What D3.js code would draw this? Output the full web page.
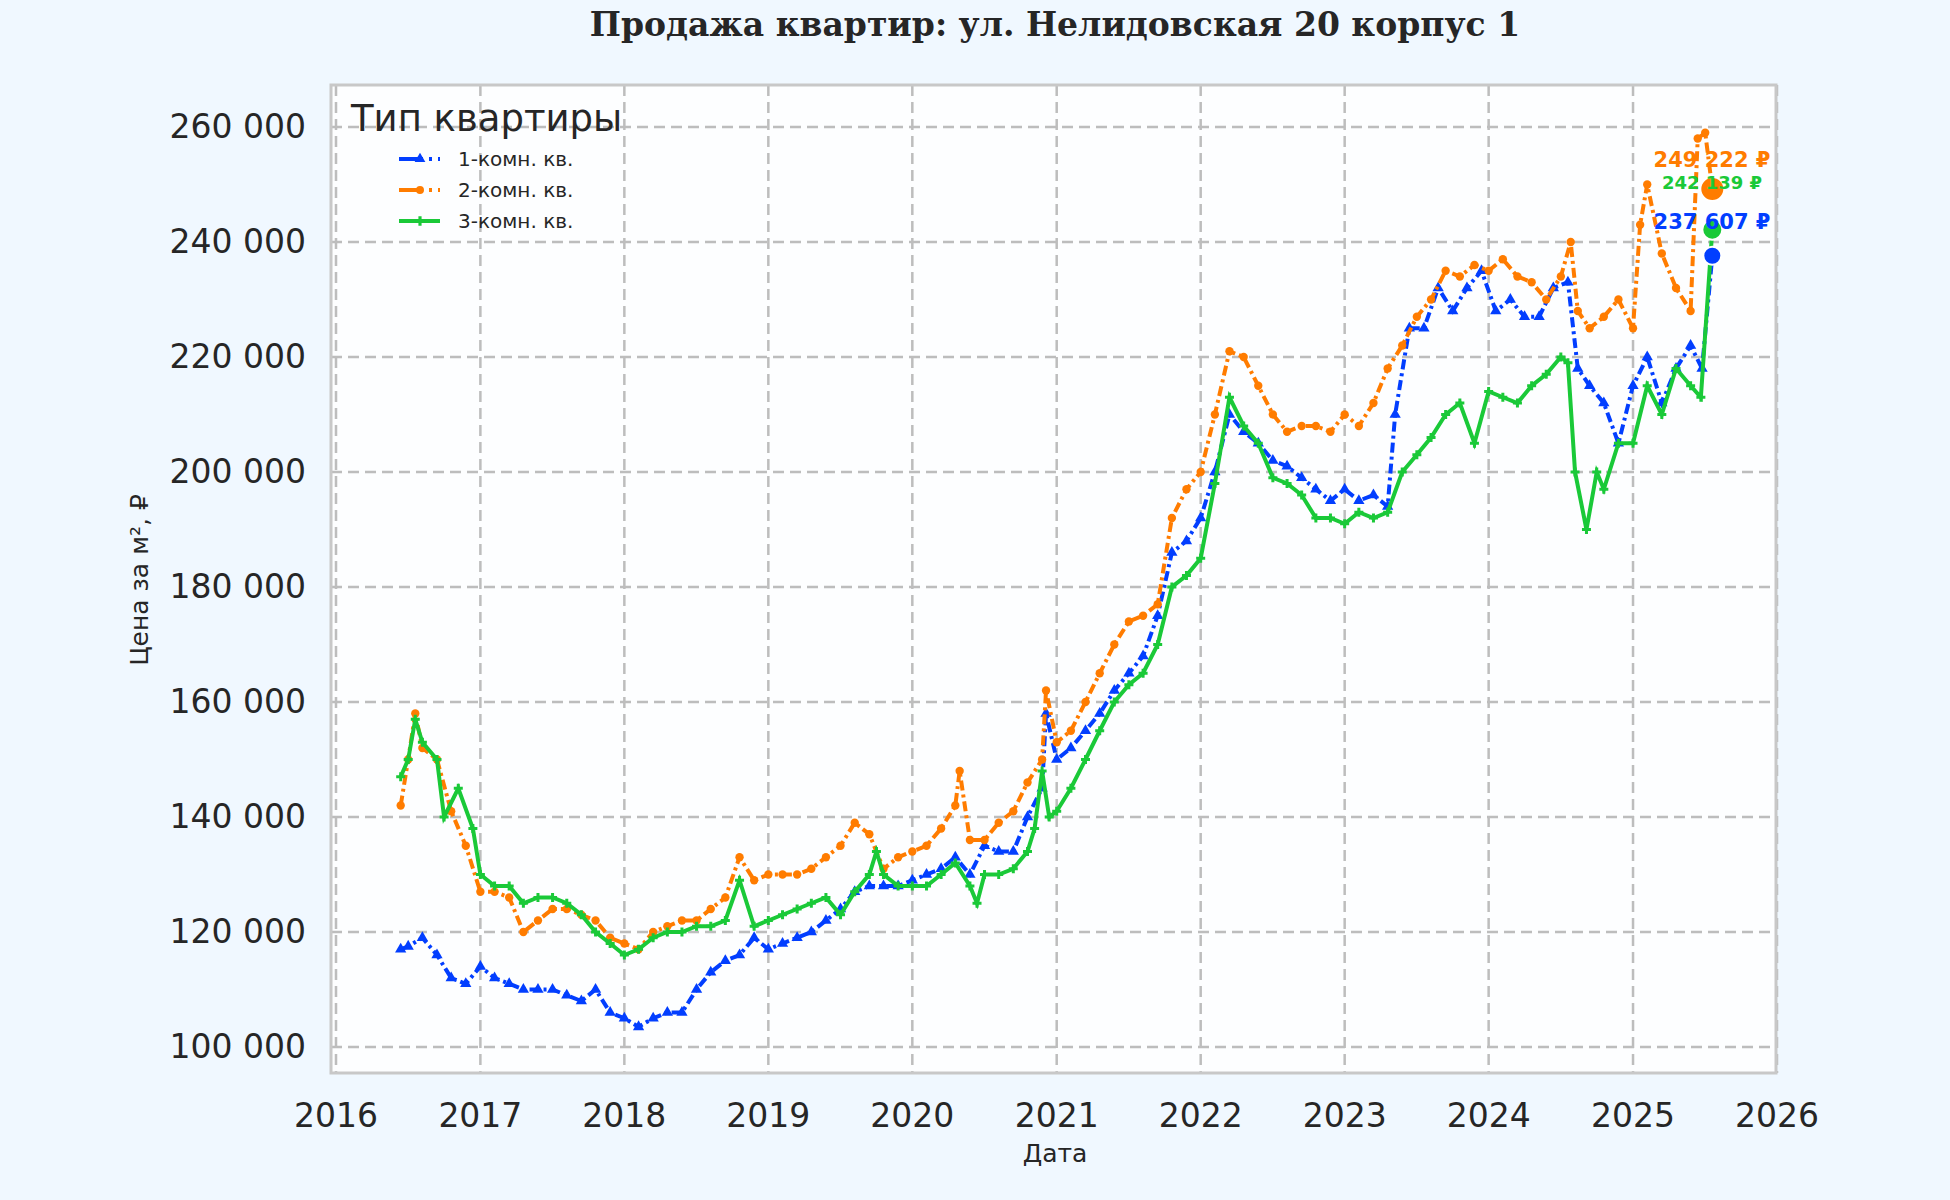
<!DOCTYPE html>
<html><head><meta charset="utf-8">
<script src="https://cdn.jsdelivr.net/npm/d3@7"></script>
<style>body{margin:0;background:#f0f8ff}svg{display:block}</style></head>
<body><svg id="c" width="1950" height="1200"></svg>
<script>
const years1=[2016.45,2016.5,2016.6,2016.7,2016.8,2016.9,2017.0,2017.1,2017.2,2017.3,2017.4,2017.5,2017.6,2017.7,2017.8,2017.9,2018.0,2018.1,2018.2,2018.3,2018.4,2018.5,2018.6,2018.7,2018.8,2018.9,2019.0,2019.1,2019.2,2019.3,2019.4,2019.5,2019.6,2019.7,2019.8,2019.9,2020.0,2020.1,2020.2,2020.3,2020.4,2020.5,2020.6,2020.7,2020.8,2020.9,2020.93,2021.0,2021.1,2021.2,2021.3,2021.4,2021.5,2021.6,2021.7,2021.8,2021.9,2022.0,2022.1,2022.2,2022.3,2022.4,2022.5,2022.6,2022.7,2022.8,2022.9,2023.0,2023.1,2023.2,2023.3,2023.35,2023.45,2023.55,2023.65,2023.75,2023.85,2023.95,2024.05,2024.15,2024.25,2024.35,2024.45,2024.55,2024.62,2024.7,2024.8,2024.9,2025.0,2025.1,2025.2,2025.3,2025.4,2025.48,2025.55];
const values1=[117000,117500,119000,116000,112000,111000,114000,112000,111000,110000,110000,110000,109000,108000,110000,106000,105000,103500,105000,106000,106000,110000,113000,115000,116000,119000,117000,118000,119000,120000,122000,124000,127000,128000,128000,128000,129000,130000,131000,133000,130000,135000,134000,134000,140000,145000,158000,150000,152000,155000,158000,162000,165000,168000,175000,186000,188000,192000,200000,210000,207000,205000,202000,201000,199000,197000,195000,197000,195000,196000,194000,210000,225000,225000,232000,228000,232000,235000,228000,230000,227000,227000,232000,233000,218000,215000,212000,205000,215000,220000,212000,218000,222000,218000,237607];
const years2=[2016.45,2016.5,2016.55,2016.6,2016.7,2016.8,2016.9,2017.0,2017.1,2017.2,2017.3,2017.4,2017.5,2017.6,2017.7,2017.8,2017.9,2018.0,2018.1,2018.2,2018.3,2018.4,2018.5,2018.6,2018.7,2018.8,2018.9,2019.0,2019.1,2019.2,2019.3,2019.4,2019.5,2019.6,2019.7,2019.8,2019.9,2020.0,2020.1,2020.2,2020.3,2020.33,2020.4,2020.5,2020.6,2020.7,2020.8,2020.9,2020.93,2021.0,2021.1,2021.2,2021.3,2021.4,2021.5,2021.6,2021.7,2021.8,2021.9,2022.0,2022.1,2022.2,2022.3,2022.4,2022.5,2022.6,2022.7,2022.8,2022.9,2023.0,2023.1,2023.2,2023.3,2023.4,2023.5,2023.6,2023.7,2023.8,2023.9,2024.0,2024.1,2024.2,2024.3,2024.4,2024.5,2024.57,2024.62,2024.7,2024.8,2024.9,2025.0,2025.05,2025.1,2025.2,2025.3,2025.4,2025.45,2025.5,2025.55];
const values2=[142000,150000,158000,152000,150000,141000,135000,127000,127000,126000,120000,122000,124000,124000,123000,122000,119000,118000,117000,120000,121000,122000,122000,124000,126000,133000,129000,130000,130000,130000,131000,133000,135000,139000,137000,131000,133000,134000,135000,138000,142000,148000,136000,136000,139000,141000,146000,150000,162000,153000,155000,160000,165000,170000,174000,175000,177000,192000,197000,200000,210000,221000,220000,215000,210000,207000,208000,208000,207000,210000,208000,212000,218000,222000,227000,230000,235000,234000,236000,235000,237000,234000,233000,230000,234000,240000,228000,225000,227000,230000,225000,243000,250000,238000,232000,228000,258000,259000,249222];
const years3=[2016.45,2016.5,2016.55,2016.6,2016.7,2016.75,2016.85,2016.95,2017.0,2017.1,2017.2,2017.3,2017.4,2017.5,2017.6,2017.7,2017.8,2017.9,2018.0,2018.1,2018.2,2018.3,2018.4,2018.5,2018.6,2018.7,2018.8,2018.9,2019.0,2019.1,2019.2,2019.3,2019.4,2019.5,2019.6,2019.7,2019.75,2019.8,2019.9,2020.0,2020.1,2020.2,2020.3,2020.4,2020.45,2020.5,2020.6,2020.7,2020.8,2020.85,2020.9,2020.95,2021.0,2021.1,2021.2,2021.3,2021.4,2021.5,2021.6,2021.7,2021.8,2021.9,2022.0,2022.1,2022.2,2022.3,2022.4,2022.5,2022.6,2022.7,2022.8,2022.9,2023.0,2023.1,2023.2,2023.3,2023.4,2023.5,2023.6,2023.7,2023.8,2023.9,2024.0,2024.1,2024.2,2024.3,2024.4,2024.5,2024.55,2024.6,2024.68,2024.75,2024.8,2024.9,2025.0,2025.1,2025.2,2025.3,2025.4,2025.47,2025.55];
const values3=[147000,150000,157000,153000,150000,140000,145000,138000,130000,128000,128000,125000,126000,126000,125000,123000,120000,118000,116000,117000,119000,120000,120000,121000,121000,122000,129000,121000,122000,123000,124000,125000,126000,123000,127000,130000,134000,130000,128000,128000,128000,130000,132000,128000,125000,130000,130000,131000,134000,138000,148000,140000,141000,145000,150000,155000,160000,163000,165000,170000,180000,182000,185000,198000,213000,208000,205000,199000,198000,196000,192000,192000,191000,193000,192000,193000,200000,203000,206000,210000,212000,205000,214000,213000,212000,215000,217000,220000,219000,200000,190000,200000,197000,205000,205000,215000,210000,218000,215000,213000,242139];
const seriesNames=["1-комн. кв.","2-комн. кв.","3-комн. кв."];
const endLabels=["237 607 ₽","249 222 ₽","242 139 ₽"];
const yTicks=[100000,120000,140000,160000,180000,200000,220000,240000,260000];
const xTicks=[2016,2017,2018,2019,2020,2021,2022,2023,2024,2025,2026];

const colors=["#023eff","#ff7c00","#1ac938"];
const dashes=["10,4,3,4","10,4,3,4",null];
const toDate=y=>{const yr=Math.floor(y);return new Date(yr,0,1+Math.round((y-yr)*365));};
const svg=d3.select("#c");
const L=331,R=1776,T=85,B=1073;
const x=d3.scaleTime().domain([toDate(2016),toDate(2026)]).range([336,1777]);
const y=d3.scaleLinear().domain([100000,260000]).range([1047,127]);
const fmt=v=>d3.format(",")(v).replace(/,/g," ");

svg.append("rect").attr("x",L).attr("y",T).attr("width",R-L).attr("height",B-T).attr("fill","#fdfeff");
const g=svg.append("g");
g.selectAll(".gy").data(yTicks).join("line").attr("x1",L).attr("x2",R).attr("y1",d=>y(d)).attr("y2",d=>y(d)).attr("stroke","#bdbdbd").attr("stroke-width",2.5).attr("stroke-dasharray","11,6");
g.selectAll(".gx").data(xTicks).join("line").attr("y1",T).attr("y2",B).attr("x1",d=>x(toDate(d))).attr("x2",d=>x(toDate(d))).attr("stroke","#bdbdbd").attr("stroke-width",2.5).attr("stroke-dasharray","11,6");

const sets=[[years1,values1],[years2,values2],[years3,values3]];
svg.append("clipPath").attr("id","cp").append("rect").attr("x",L).attr("y",T).attr("width",R-L).attr("height",B-T);
const pg=svg.append("g").attr("clip-path","url(#cp)");
sets.forEach(([ys,vs],i)=>{
  const data=ys.map((t,k)=>({d:toDate(t),v:vs[k]}));
  pg.append("path").datum(data).attr("fill","none").attr("stroke",colors[i]).attr("stroke-width",4)
    .attr("stroke-dasharray",dashes[i]).attr("d",d3.line().x(d=>x(d.d)).y(d=>y(d.v)));
  const sym=[d3.symbolTriangle,d3.symbolCircle,d3.symbolCross][i];
  pg.selectAll(null).data(data).join("path").attr("transform",d=>`translate(${x(d.d)},${y(d.v)})`)
    .attr("d",d3.symbol(sym,i==2?45:55)).attr("fill",colors[i]);
});
[1,2,0].forEach(i=>{
  const [ys,vs]=sets[i];const d=toDate(ys[ys.length-1]),v=vs[vs.length-1];
  svg.append("circle").attr("cx",x(d)).attr("cy",y(v)).attr("r",i==1?12:i==2?10:9).attr("fill",colors[i]).attr("stroke","white").attr("stroke-width",2);
});
[[0,229],[1,167],[2,189]].forEach(([i,yy])=>{
  svg.append("text").attr("x",1712).attr("y",yy).attr("text-anchor","middle").attr("fill",colors[i])
   .attr("font-family","DejaVu Sans").attr("font-weight","bold").attr("font-size",i==2?18:21).text(endLabels[i]);
});
svg.append("rect").attr("x",L).attr("y",T).attr("width",R-L).attr("height",B-T).attr("fill","none").attr("stroke","#c8c8c8").attr("stroke-width",3);

const tf="DejaVu Sans";
svg.selectAll(".yt").data(yTicks).join("text").attr("x",306).attr("y",d=>y(d)+11).attr("text-anchor","end").attr("font-family",tf).attr("font-size",33).attr("fill","#262626").text(fmt);
svg.selectAll(".xt").data(xTicks).join("text").attr("x",d=>x(toDate(d))).attr("y",1127).attr("text-anchor","middle").attr("font-family",tf).attr("font-size",33).attr("fill","#262626").text(d=>d);
svg.append("text").attr("x",1055).attr("y",1162).attr("text-anchor","middle").attr("font-family",tf).attr("font-size",25).attr("fill","#262626").text("Дата");
svg.append("text").attr("transform","translate(148,580) rotate(-90)").attr("text-anchor","middle").attr("font-family",tf).attr("font-size",25).attr("fill","#262626").text("Цена за м², ₽");
svg.append("text").attr("x",1055).attr("y",36).attr("text-anchor","middle").attr("font-family","DejaVu Serif").attr("font-weight","bold").attr("font-size",33).attr("fill","#262626").text("Продажа квартир: ул. Нелидовская 20 корпус 1");
svg.append("text").attr("x",351).attr("y",131).attr("font-family",tf).attr("font-size",37).attr("fill","#262626").text("Тип квартиры");
seriesNames.forEach((n,i)=>{
  const yy=159+i*31;
  svg.append("line").attr("x1",399).attr("x2",440).attr("y1",yy).attr("y2",yy).attr("stroke",colors[i]).attr("stroke-width",4).attr("stroke-dasharray",dashes[i]?"24,6,3,6":null);
  svg.append("path").attr("transform",`translate(420,${yy})`).attr("d",d3.symbol([d3.symbolTriangle,d3.symbolCircle,d3.symbolCross][i],50)).attr("fill",colors[i]);
  svg.append("text").attr("x",458).attr("y",yy+7).attr("font-family",tf).attr("font-size",20).attr("fill","#262626").text(n);
});
</script></body></html>
